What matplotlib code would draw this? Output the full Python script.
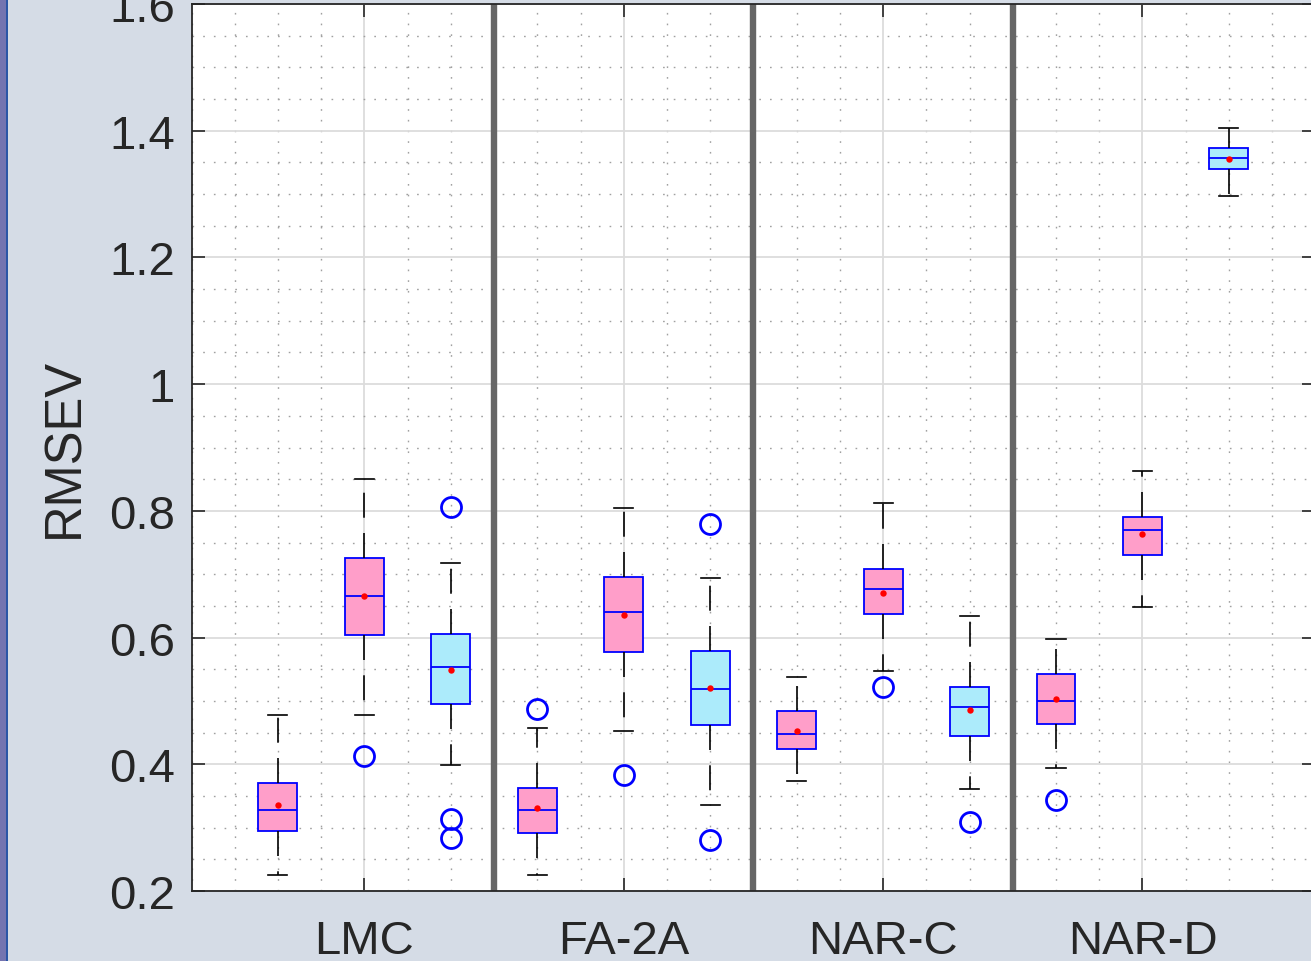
import matplotlib
matplotlib.use("Agg")
import matplotlib.pyplot as plt
from matplotlib.patches import Rectangle
from matplotlib.ticker import MultipleLocator

# ---------------- data ----------------
groups = ["LMC", "FA-2A", "NAR-C", "NAR-D"]
n_per_group = 3
box_colors = ["pink", "pink", "cyan"]  # per position within group

q1 = [0.295, 0.6045, 0.495, 0.291, 0.577, 0.4625, 0.424, 0.637, 0.4446, 0.4636, 0.7308, 1.3395]
med = [0.328, 0.6656, 0.5535, 0.328, 0.641, 0.5188, 0.4478, 0.676, 0.490, 0.5003, 0.769, 1.357]
q3 = [0.370, 0.7256, 0.605, 0.362, 0.695, 0.5788, 0.4836, 0.709, 0.5225, 0.542, 0.7907, 1.372]
whislo = [0.226, 0.478, 0.399, 0.226, 0.453, 0.336, 0.3736, 0.547, 0.3615, 0.394, 0.6487, 1.297]
whishi = [0.478, 0.850, 0.717, 0.457, 0.8045, 0.694, 0.537, 0.8124, 0.634, 0.598, 0.8624, 1.405]
means = [0.335, 0.665, 0.549, 0.3305, 0.6356, 0.520, 0.4525, 0.671, 0.4857, 0.5025, 0.763, 1.356]
fliers = [[], [0.413], [0.8056, 0.3136, 0.284], [0.488], [0.3826], [0.7787, 0.2805],
          [], [0.5225], [0.309], [0.343], [], []]

ytick_vals = [0.2, 0.4, 0.6, 0.8, 1.0, 1.2, 1.4, 1.6]
ytick_labels = ["0.2", "0.4", "0.6", "0.8", "1", "1.2", "1.4", "1.6"]
ylabel = "RMSEV"

# ---------------- style ----------------
plt.rcParams["font.family"] = ["Liberation Sans", "DejaVu Sans"]
plt.rcParams["lines.scale_dashes"] = False
text_color = "#262626"
fill = {"pink": "#ff9ec9", "cyan": "#acebfb"}
bg = "#d5dce6"

W, H = 1311, 962
fig = plt.figure(figsize=(W / 100, H / 100), dpi=100)
fig.patch.set_facecolor(bg)

# window border strip on the left
fig.patches.append(Rectangle((0, 0), 6 / W, 1, transform=fig.transFigure,
                             facecolor="#7474b0", edgecolor="none", zorder=0))
fig.patches.append(Rectangle((6 / W, 0), 2 / W, 1, transform=fig.transFigure,
                             facecolor="#2c56a6", edgecolor="none", zorder=0))

unit = 86.45
x0px = 191.5
ax = fig.add_axes([x0px / W, 70 / H, 13 * unit / W, 887 / H])
ax.set_facecolor("white")

n = len(q1)
positions = list(range(1, n + 1))
stats = []
for i in range(n):
    stats.append(dict(med=med[i], q1=q1[i], q3=q3[i], whislo=whislo[i],
                      whishi=whishi[i], mean=means[i], fliers=fliers[i]))

bp = ax.bxp(stats, positions=positions, widths=0.45, capwidths=0.22,
            patch_artist=True, showmeans=True, manage_ticks=False,
            boxprops=dict(edgecolor="#0000ff", linewidth=1.3),
            medianprops=dict(color="#0000ff", linewidth=1.3),
            whiskerprops=dict(color="black", linewidth=1.2, linestyle=(0, (18, 11))),
            capprops=dict(color="black", linewidth=1.2),
            meanprops=dict(marker="o", markerfacecolor="red", markeredgecolor="none",
                           markersize=4.6),
            flierprops=dict(marker="o", markerfacecolor="none", markeredgecolor="#0000ff",
                            markersize=14.4, markeredgewidth=2.0))
for i, patch in enumerate(bp["boxes"]):
    patch.set_facecolor(fill[box_colors[i % n_per_group]])
for art in bp["boxes"] + bp["medians"] + bp["whiskers"] + bp["caps"] + bp["fliers"] + bp["means"]:
    art.set_zorder(3)

# group separators
for k in range(1, len(groups)):
    ax.axvline(k * n_per_group + 0.5, color="#666666", linewidth=4.6, zorder=2.5)

ax.set_xlim(0, len(groups) * n_per_group + 1)
ax.set_ylim(ytick_vals[0], ytick_vals[-1])

group_centers = [k * n_per_group + (n_per_group + 1) / 2 for k in range(len(groups))]
ax.set_xticks(group_centers)
ax.set_xticklabels(groups)
ax.set_yticks(ytick_vals)
ax.set_yticklabels(ytick_labels)
ax.xaxis.set_minor_locator(MultipleLocator(0.5))
ax.yaxis.set_minor_locator(MultipleLocator(0.05))

ax.grid(True, which="major", color="#dcdcdc", linewidth=1.3, zorder=0)
ax.grid(True, which="minor", color="#a0a0a0", linewidth=1.0,
        linestyle=(0, (1.2, 6.5)), zorder=0)
ax.set_axisbelow(True)

ax.tick_params(which="major", direction="in", length=9.5, width=1.2, color=text_color,
               labelsize=34, labelcolor=text_color, top=True, right=True)
ax.tick_params(axis="y", pad=12)
ax.tick_params(axis="x", pad=20)
ax.tick_params(which="minor", length=0)
for s in ax.spines.values():
    s.set_color(text_color)
    s.set_linewidth(1.3)
    s.set_zorder(4)

fig.text(65 / W, 1 - 448 / H, ylabel, rotation=90, ha="center", va="center",
         fontsize=36.5, color=text_color)

fig.savefig("out.png", dpi=100, facecolor=bg)
